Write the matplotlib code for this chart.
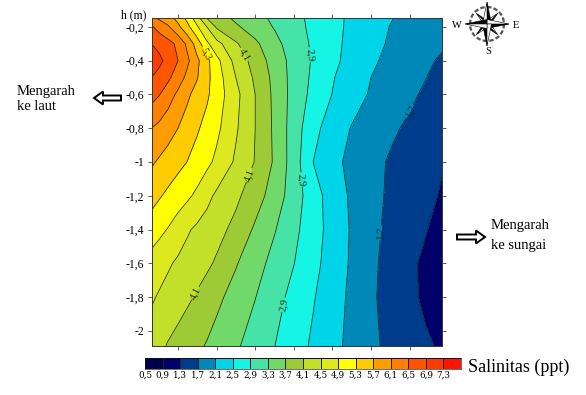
import numpy as np
import matplotlib
matplotlib.use("Agg")
import matplotlib.pyplot as plt
from matplotlib.colors import ListedColormap
from matplotlib.patches import Polygon, Circle, FancyArrow

plt.rcParams['font.family'] = ['Liberation Serif', 'DejaVu Serif']

# distance along the section (tick units) and depth (m)
jarak = [-0.687, -0.49, -0.26, 0, 0.23, 0.49, 0.75, 1, 1.5, 2, 2.51, 3, 3.5, 4, 4.5, 5, 5.5, 6, 6.42, 6.84]
kedalaman = [-0.147, -0.2, -0.3, -0.4, -0.5, -0.6, -0.8, -1.0, -1.2, -1.4, -1.6, -1.8, -2.09]

# salinity (ppt), one row per depth
sal_01 = [6.20, 6.04, 5.85, 5.58, 5.20, 4.67, 4.08, 3.90, 3.62, 3.43, 3.22, 3.01, 2.81, 2.61, 2.43, 2.27, 2.12, 2.01, 1.93, 1.85]
sal_02 = [6.55, 6.35, 6.16, 5.79, 5.44, 4.96, 4.50, 4.05, 3.76, 3.51, 3.27, 3.03, 2.82, 2.61, 2.42, 2.25, 2.09, 1.98, 1.89, 1.80]
sal_03 = [6.90, 6.78, 6.63, 6.42, 6.03, 5.52, 4.98, 4.64, 4.15, 3.78, 3.41, 3.11, 2.84, 2.60, 2.40, 2.21, 2.06, 1.94, 1.85, 1.75]
sal_04 = [7.20, 7.00, 6.77, 6.50, 6.20, 5.79, 5.41, 5.02, 4.36, 3.94, 3.52, 3.16, 2.86, 2.59, 2.37, 2.16, 2.01, 1.88, 1.76, 1.65]
sal_05 = [6.90, 6.76, 6.58, 6.30, 6.01, 5.73, 5.40, 5.10, 4.50, 4.03, 3.58, 3.15, 2.83, 2.53, 2.28, 2.10, 1.96, 1.83, 1.71, 1.55]
sal_06 = [6.65, 6.52, 6.29, 6.02, 5.78, 5.56, 5.36, 5.11, 4.61, 4.10, 3.60, 3.15, 2.79, 2.49, 2.27, 2.06, 1.92, 1.78, 1.63, 1.45]
sal_07 = [6.10, 6.00, 5.86, 5.70, 5.54, 5.35, 5.17, 4.99, 4.55, 4.10, 3.62, 3.11, 2.62, 2.31, 2.08, 1.92, 1.77, 1.63, 1.51, 1.40]
sal_08 = [5.75, 5.65, 5.54, 5.41, 5.30, 5.15, 4.99, 4.82, 4.44, 4.08, 3.64, 3.10, 2.50, 2.21, 2.00, 1.82, 1.66, 1.53, 1.43, 1.32]
sal_09 = [5.45, 5.34, 5.22, 5.09, 4.98, 4.82, 4.61, 4.43, 4.18, 3.88, 3.51, 3.10, 2.68, 2.31, 2.04, 1.82, 1.64, 1.50, 1.38, 1.27]
sal_10 = [5.10, 5.00, 4.88, 4.71, 4.55, 4.43, 4.33, 4.23, 3.99, 3.64, 3.32, 3.00, 2.67, 2.35, 2.06, 1.80, 1.61, 1.45, 1.32, 1.15]
sal_11 = [4.75, 4.66, 4.55, 4.44, 4.36, 4.26, 4.17, 4.05, 3.73, 3.45, 3.17, 2.91, 2.62, 2.32, 2.05, 1.78, 1.57, 1.38, 1.22, 1.05]
sal_12 = [4.55, 4.46, 4.37, 4.26, 4.17, 4.06, 3.93, 3.79, 3.55, 3.31, 3.04, 2.78, 2.53, 2.27, 2.02, 1.76, 1.56, 1.38, 1.23, 1.10]
sal_13 = [4.30, 4.19, 4.07, 3.97, 3.87, 3.77, 3.67, 3.56, 3.35, 3.14, 2.90, 2.67, 2.44, 2.21, 2.00, 1.78, 1.61, 1.47, 1.35, 1.25]

# 18 classes, 0.5 to 7.7
batas = [0.5, 0.9, 1.3, 1.7, 2.1, 2.5, 2.9, 3.3, 3.7, 4.1, 4.5, 4.9, 5.3, 5.7, 6.1, 6.5, 6.9, 7.3, 7.7]
warna = ['#00004f', '#000068', '#003c8c', '#0088b8', '#00d4e8', '#14f5e5', '#45e3a8', '#70d96a', '#9ccb35',
         '#c2e02a', '#dde81f', '#ffff00', '#ffcc00', '#ff9c00', '#ff7f00', '#ff5500', '#ff3c00', '#ff1500']
label_warna = ['0,5', '0,9', '1,3', '1,7', '2,1', '2,5', '2,9', '3,3', '3,7', '4,1', '4,5', '4,9', '5,3', '5,7', '6,1', '6,5', '6,9', '7,3']
y_ticks = [-0.2, -0.4, -0.6, -0.8, -1.0, -1.2, -1.4, -1.6, -1.8, -2.0]
y_labels = ['-0,2', '-0,4', '-0,6', '-0,8', '-1', '-1,2', '-1,4', '-1,6', '-1,8', '-2']
x_ticks = [0, 1, 2, 3, 4, 5, 6]
label_level = [1.7, 2.9, 4.1, 5.3]
garis_level = [1.3, 2.1, 2.5, 3.3, 3.7, 4.5, 4.9, 5.7, 6.1, 6.5, 6.9]
label_pos = [(0.75, -0.354), (1.68, -0.366), (3.37, -0.366), (5.93, -0.69), (1.87, -1.08),
             (3.19, -1.105), (5.23, -1.42), (0.39, -1.77), (2.72, -1.845)]

W, H = 586, 395
fig = plt.figure(figsize=(W / 100, H / 100), dpi=100)

def kotak(x0, y0, x1, y1):
    return [x0 / W, 1 - y1 / H, (x1 - x0) / W, (y1 - y0) / H]

Z = np.array([sal_01, sal_02, sal_03, sal_04, sal_05, sal_06, sal_07, sal_08, sal_09, sal_10, sal_11, sal_12, sal_13])

ax = fig.add_axes(kotak(151.5, 18, 442, 346))
ax.contourf(jarak, kedalaman, Z, levels=batas, colors=warna)
ax.contour(jarak, kedalaman, Z, levels=garis_level, colors='#1a2a1a', linewidths=0.55)
cs = ax.contour(jarak, kedalaman, Z, levels=label_level, colors='#1a2a1a', linewidths=0.55)
ax.clabel(cs, manual=label_pos, inline=True, inline_spacing=1, fontsize=7.5,
          fmt=lambda v: ('%.1f' % v).replace('.', ','))
ax.set_xlim(jarak[0], jarak[-1])
ax.set_ylim(kedalaman[-1], kedalaman[0])
ax.set_xticks(x_ticks)
ax.set_yticks(y_ticks)
ax.set_yticklabels(y_labels, fontsize=8.5)
ax.tick_params(top=True, right=True, bottom=True, left=True, labelbottom=False, direction='out',
               length=3, width=0.6, color='#444444', pad=2.5)
for s in ax.spines.values():
    s.set_linewidth(0.7)
    s.set_color('#333333')

# colour scale
cb = fig.add_axes(kotak(145, 358, 461, 369))
cb.pcolormesh(np.arange(len(warna) + 1), [0, 1], [np.arange(len(warna))], cmap=ListedColormap(warna),
              edgecolors='#222222', linewidth=0.4)
cb.set_xticks(np.arange(len(warna)))
cb.set_xticklabels(label_warna, family='DejaVu Serif', fontsize=6.3)
cb.set_yticks([])
cb.tick_params(length=0, pad=1.5)
for s in cb.spines.values():
    s.set_linewidth(0.4)

# overlay in pixels: text, arrows, compass
ov = fig.add_axes([0, 0, 1, 1], zorder=5)
ov.set_xlim(0, W)
ov.set_ylim(H, 0)
ov.axis('off')
ov.text(146, 15, 'h (m)', ha='right', va='center', fontsize=8.5)
ov.text(17, 91, 'Mengarah', va='center', fontsize=10.5)
ov.text(17, 107, 'ke laut', va='center', fontsize=10.5)
ov.text(491, 226, 'Mengarah', va='center', fontsize=10.5)
ov.text(491, 246, 'ke sungai', va='center', fontsize=10.5)
ov.text(468, 367, 'Salinitas (ppt)', va='center', fontsize=13)

ov.add_patch(FancyArrow(121, 98, -27, 0, width=5, head_width=13, head_length=9, length_includes_head=True,
                        fc='white', ec='black', lw=1.4))
ov.add_patch(FancyArrow(457, 237, 28, 0, width=5, head_width=13, head_length=9, length_includes_head=True,
                        fc='white', ec='black', lw=1.4))

cx, cy = 487, 24
ov.add_patch(Circle((cx, cy), 17, fc='none', ec='#555555', lw=1.6, ls=(0, (2, 1))))
for i in [1, 3, 5, 7, 0, 2, 4, 6]:
    a = i * np.pi / 4
    r = 22 if i % 2 == 0 else 15
    ujung = np.array([cx + r * np.sin(a), cy - r * np.cos(a)])
    samping = 4.5 if i % 2 == 0 else 3.0
    n = np.array([np.cos(a), np.sin(a)]) * samping
    ov.add_patch(Polygon([(cx, cy), ujung, (cx + n[0], cy + n[1])], fc='black', ec='black', lw=0.4))
    ov.add_patch(Polygon([(cx, cy), ujung, (cx - n[0], cy - n[1])], fc='white', ec='black', lw=0.4))
ov.text(457, 25, 'W', ha='center', va='center', fontsize=7.5)
ov.text(516, 25, 'E', ha='center', va='center', fontsize=7.5)
ov.text(488, 52, 'S', ha='center', va='center', fontsize=7.5)

fig.savefig('out.png', dpi=100)
